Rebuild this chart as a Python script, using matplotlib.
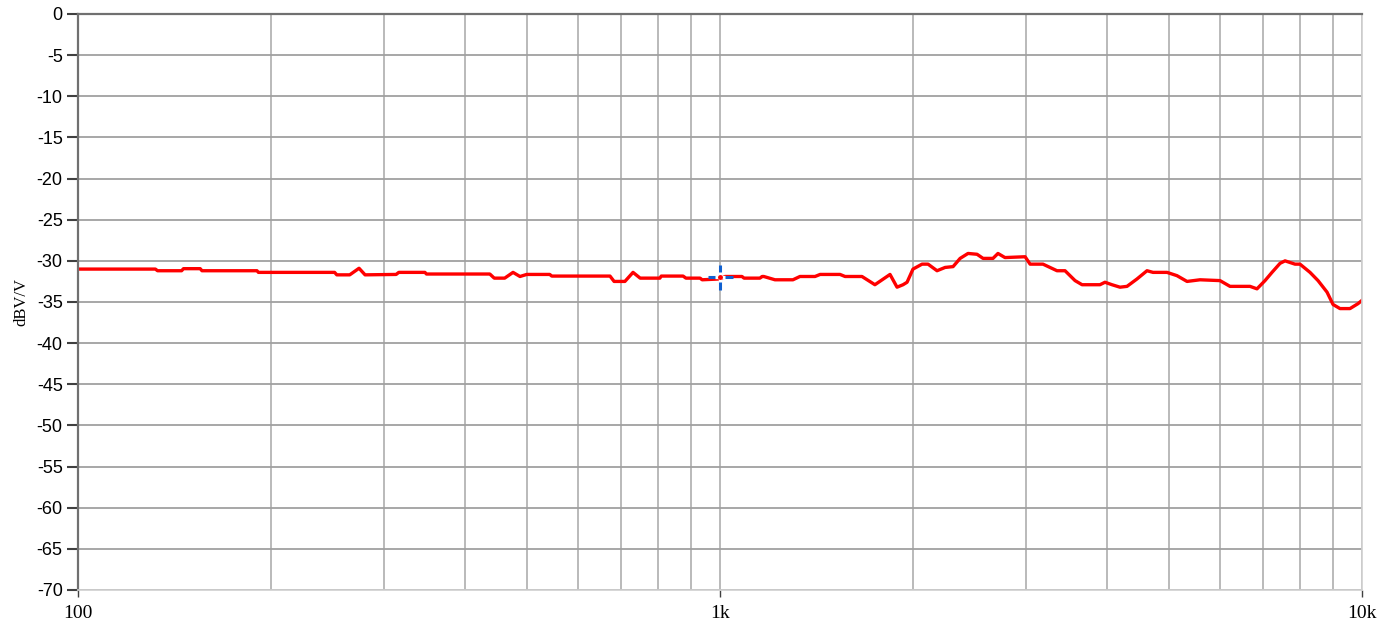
import matplotlib
matplotlib.use("Agg")
import matplotlib.pyplot as plt
from matplotlib.ticker import FixedLocator, NullFormatter
import numpy as np

# frequency response (Hz, dBV/V)
freq = [100, 132, 133, 145, 146, 155, 156, 190, 191, 251, 253, 265, 274, 280,
        313, 316, 347, 349, 438, 445, 462, 476, 488, 500, 543, 547, 674, 684,
        711, 732, 751, 806, 810, 876, 885, 931, 938, 1000, 1018, 1082, 1090,
        1154, 1163, 1170, 1218, 1299, 1332, 1406, 1432, 1538, 1566, 1664, 1743,
        1840, 1887, 1928, 1956, 1998, 2064, 2109, 2178, 2242, 2307, 2366, 2434,
        2514, 2569, 2662, 2710, 2779, 2987, 3041, 3185, 3266, 3349, 3447, 3573,
        3664, 3907, 3978, 4079, 4198, 4305, 4462, 4625, 4726, 4969, 5150, 5339,
        5594, 6009, 6229, 6692, 6862, 7062, 7241, 7453, 7588, 7864, 8006, 8299,
        8541, 8821, 9013, 9241, 9578, 9858, 10000]
level = [-31.0, -31.0, -31.2, -31.2, -30.95, -30.95, -31.2, -31.2, -31.4, -31.4,
         -31.7, -31.7, -30.9, -31.7, -31.65, -31.4, -31.4, -31.6, -31.6, -32.1,
         -32.1, -31.4, -31.9, -31.65, -31.65, -31.85, -31.85, -32.5, -32.5, -31.4,
         -32.1, -32.1, -31.85, -31.85, -32.1, -32.1, -32.3, -32.2, -31.9, -31.9,
         -32.1, -32.1, -31.9, -31.9, -32.3, -32.3, -31.9, -31.9, -31.65, -31.65,
         -31.9, -31.9, -32.9, -31.65, -33.2, -32.9, -32.6, -31.0, -30.4, -30.4,
         -31.2, -30.8, -30.7, -29.7, -29.1, -29.2, -29.7, -29.7, -29.1, -29.6,
         -29.5, -30.4, -30.4, -30.8, -31.2, -31.2, -32.4, -32.9, -32.9, -32.6,
         -32.9, -33.2, -33.1, -32.2, -31.2, -31.4, -31.4, -31.8, -32.5, -32.3,
         -32.4, -33.1, -33.1, -33.4, -32.4, -31.4, -30.3, -30.0, -30.4, -30.4,
         -31.4, -32.4, -33.8, -35.3, -35.8, -35.8, -35.2, -34.8]

cursor_freq = 1000
cursor_level = -32.0

x_ticks = [100, 1000, 10000]
x_labels = ["100", "1k", "10k"]
y_ticks = list(range(-70, 1, 5))

fig = plt.figure(figsize=(13.94, 6.31), dpi=100)
ax = fig.add_axes([78/1394, 1 - 590/631, (1362 - 78)/1394, (590 - 14)/631])

ax.set_xscale("log")
ax.set_xlim(100, 10000)
ax.set_ylim(-70, 0)

ax.xaxis.set_major_locator(FixedLocator(x_ticks))
ax.xaxis.set_minor_locator(FixedLocator([m * d for d in (100, 1000) for m in range(2, 10)]))
ax.xaxis.set_minor_formatter(NullFormatter())
ax.set_xticklabels(x_labels, family="Liberation Serif", fontsize=14)
ax.set_yticks(y_ticks)
ax.set_yticklabels([str(v) for v in y_ticks], family="Liberation Sans", fontsize=13)

ax.grid(True, which="both", axis="x", color="#b4b4b4", lw=1.3)
ax.grid(True, which="major", axis="y", color="#a0a0a0", lw=1.3)
ax.tick_params(axis="x", which="minor", length=0)
ax.tick_params(axis="x", which="major", length=5, width=1, color="#404040", pad=6)
ax.tick_params(axis="y", length=8, width=1.5, color="#404040", pad=3)

for side in ("left", "top"):
    ax.spines[side].set_color("#707070")
    ax.spines[side].set_linewidth(1.6)
for side in ("right", "bottom"):
    ax.spines[side].set_color("#d0d0d0")
    ax.spines[side].set_linewidth(1.2)

ax.plot(freq, level, color="#ff0000", lw=2.4, solid_joinstyle="round")
ax.plot([cursor_freq], [cursor_level], marker="+", ms=18, mew=2.2, color="#1060d0",
        ls="none", zorder=5)
ax.plot([cursor_freq], [cursor_level], marker="+", ms=7, mew=2.4, color="white",
        ls="none", zorder=6)
ax.plot([cursor_freq], [cursor_level], marker="o", ms=2.5, color="#ff0000",
        ls="none", zorder=7)

ax.set_ylabel("dBV/V", family="Liberation Serif", fontsize=12, labelpad=5)

fig.savefig("out.png", dpi=100, facecolor="white")
